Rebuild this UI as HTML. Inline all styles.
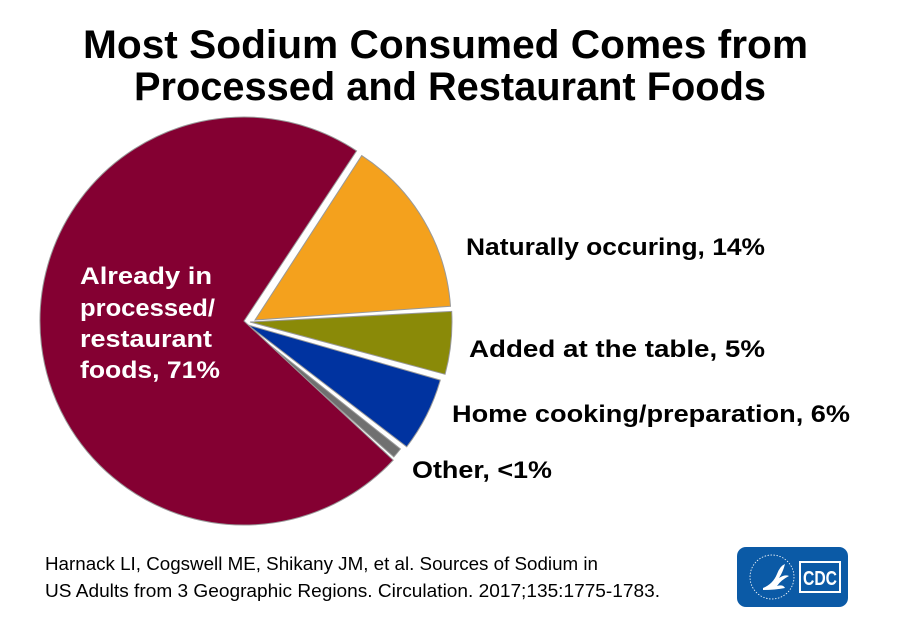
<!DOCTYPE html>
<html><head><meta charset="utf-8"><style>
html,body{margin:0;padding:0;background:#fff;}
svg{display:block;}
text{font-family:"Liberation Sans",Arial,sans-serif;}
</style></head><body>
<svg id="s" width="901" height="626" viewBox="0 0 901 626" xmlns="http://www.w3.org/2000/svg">
<rect width="901" height="626" fill="#fff"/>
<g id="pie"></g>
<g font-weight="bold" font-size="40" fill="#000">
<text x="83" y="58" textLength="725" lengthAdjust="spacingAndGlyphs">Most Sodium Consumed Comes from</text>
<text x="134" y="100" textLength="632" lengthAdjust="spacingAndGlyphs">Processed and Restaurant Foods</text>
</g>
<g font-weight="bold" font-size="24" fill="#000">
<text x="466" y="255" textLength="299" lengthAdjust="spacingAndGlyphs">Naturally occuring, 14%</text>
<text x="469" y="357" textLength="296" lengthAdjust="spacingAndGlyphs">Added at the table, 5%</text>
<text x="452" y="422" textLength="398" lengthAdjust="spacingAndGlyphs">Home cooking/preparation, 6%</text>
<text x="412" y="478" textLength="140" lengthAdjust="spacingAndGlyphs">Other, &lt;1%</text>
</g>
<g font-weight="bold" font-size="24" fill="#fff">
<text x="80" y="284" textLength="132" lengthAdjust="spacingAndGlyphs">Already in</text>
<text x="80" y="316" textLength="135" lengthAdjust="spacingAndGlyphs">processed/</text>
<text x="80" y="347" textLength="132" lengthAdjust="spacingAndGlyphs">restaurant</text>
<text x="80" y="378" textLength="140" lengthAdjust="spacingAndGlyphs">foods, 71%</text>
</g>
<g font-size="18" fill="#000">
<text x="45" y="570" textLength="553" lengthAdjust="spacingAndGlyphs">Harnack LI, Cogswell ME, Shikany JM, et al. Sources of Sodium in</text>
<text x="45" y="597" textLength="615" lengthAdjust="spacingAndGlyphs">US Adults from 3 Geographic Regions. Circulation. 2017;135:1775-1783.</text>
</g>
<g>
<rect x="737" y="547" width="111" height="60" rx="9" fill="#0b5aa6"/>
<circle cx="772" cy="577" r="22" fill="none" stroke="#fff" stroke-width="0.8" stroke-dasharray="1.5 1.5"/>
<path d="M763 588 q10 -4 14 -14 q3 -8 8 -10 q-2 8 -6 14 q6 -4 10 -2 q-8 4 -12 10 q6 -2 8 2 q-10 2 -22 2z" fill="#fff"/>
<rect x="799" y="561" width="42" height="32" fill="#fff"/>
<rect x="801" y="563" width="38" height="28" fill="#0b5aa6"/>
<text x="820" y="585" text-anchor="middle" font-family="Liberation Serif,serif" font-weight="bold" font-size="20" fill="#fff" textLength="34" lengthAdjust="spacingAndGlyphs">CDC</text>
</g>
</svg>
<script>
var slices=[
 {a0:-57,a1:-4,cx:255,cy:320,r:196,c:"#f4a11d"},
 {a0:-3,a1:15,cx:250,cy:322,r:202,c:"#8a8a08"},
 {a0:16,a1:37.5,cx:248,cy:325,r:200,c:"#0033a0"},
 {a0:38.5,a1:41.5,cx:247,cy:327,r:196,c:"#707070"},
 {a0:43,a1:303.5,cx:244,cy:321,r:204,c:"#840032"}
];
var g=document.getElementById("pie"),h="";
slices.forEach(function(s){
 var r0=s.a0*Math.PI/180,r1=s.a1*Math.PI/180;
 var x0=s.cx+s.r*Math.cos(r0),y0=s.cy+s.r*Math.sin(r0);
 var x1=s.cx+s.r*Math.cos(r1),y1=s.cy+s.r*Math.sin(r1);
 var large=(s.a1-s.a0)>180?1:0;
 h+='<path d="M'+s.cx+' '+s.cy+' L'+x0.toFixed(1)+' '+y0.toFixed(1)+' A'+s.r+' '+s.r+' 0 '+large+' 1 '+x1.toFixed(1)+' '+y1.toFixed(1)+' Z" fill="'+s.c+'" stroke="#999" stroke-width="1"/>';
});
g.innerHTML=h;
</script>
</body></html>
